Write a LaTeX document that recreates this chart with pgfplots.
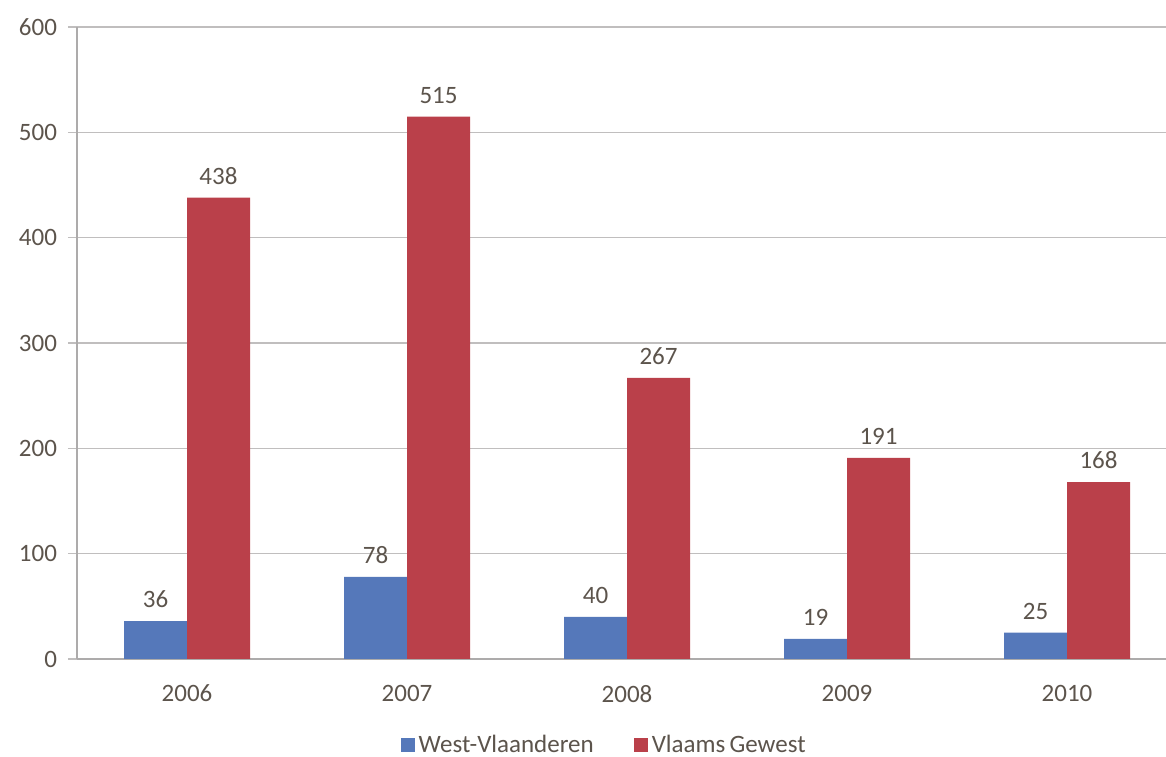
\documentclass[border=0pt]{standalone}
\usepackage{fontspec}
\setmainfont{Carlito}
\usepackage{pgfplots}
\pgfplotsset{compat=1.18}
\definecolor{wvblue}{RGB}{85,120,186}
\definecolor{vgred}{RGB}{186,64,74}
\definecolor{txt}{RGB}{92,84,76}
\definecolor{gridc}{RGB}{192,190,190}
\begin{document}
\begin{tikzpicture}
\begin{axis}[
  scale only axis,
  width=544.5pt, height=316pt,
  /pgf/number format/assume math mode=true,
  ybar=0pt, bar width=31.5pt,
  xmin=-0.5, xmax=4.45,
  ymin=0, ymax=600,
  ytick={0,100,...,600},
  xtick={0,1,2,3,4},
  xticklabels={2006,2007,2008,2009,2010},
  extra x ticks={0.5,1.5,2.5,3.5},
  extra x tick labels={},
  extra x tick style={major tick length=4pt, tick style={gridc!80!black, line width=0.6pt}, grid=none},
  major x tick style={draw=none},
  ytick style={gridc, line width=0.8pt},
  major tick length=4.5pt,
  tick align=outside,
  ymajorgrids,
  grid style={gridc, line width=0.8pt},
  axis x line*=bottom,
  axis y line*=left,
  axis line style={gridc!90!black, line width=0.8pt},
  x axis line style={-}, y axis line style={-},
  tick label style={font=\fontsize{12.5}{14}\selectfont, text=txt},
  xticklabel style={yshift=-5pt},
  yticklabel style={xshift=-2pt},
  nodes near coords,
  every node near coord/.append style={font=\fontsize{12.5}{14}\selectfont, text=txt, yshift=3pt},
  legend columns=2,
  legend style={draw=none, at={(0.485,-0.136)}, anchor=center,
    font=\fontsize{12.5}{14}\selectfont, text=txt,
    /tikz/every even column/.append style={column sep=18pt}},
  legend image code/.code={\fill[#1] (0pt,-3.5pt) rectangle (7pt,3.5pt);},
  clip=false,
]
\addplot[fill=wvblue, draw=none] coordinates {(0,36) (1,78) (2,40) (3,19) (4,25)};
\addplot[fill=vgred, draw=none] coordinates {(0,438) (1,515) (2,267) (3,191) (4,168)};
\legend{West-Vlaanderen, Vlaams\,Gewest}
\end{axis}
\pgfresetboundingbox
\path (current axis.south west) ++(-38.5pt,-49pt) coordinate (bl);
\path (current axis.north east) ++(0pt,13.5pt) coordinate (tr);
\path[use as bounding box] (bl) rectangle (tr);
\end{tikzpicture}
\end{document}
